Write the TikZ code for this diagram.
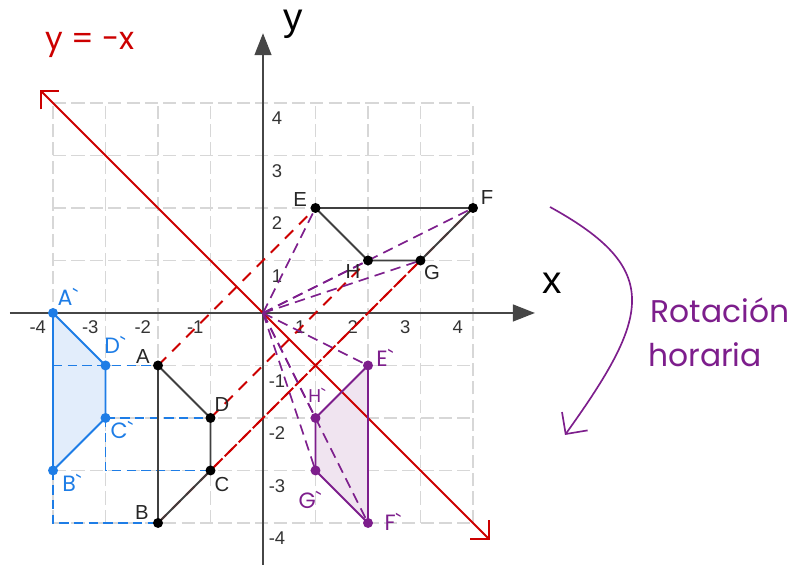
\documentclass[tikz,border=0pt]{standalone}
\usepackage{fontspec}
\setmainfont{Liberation Sans}
\newfontfamily\handfont{Poppins}
\usepackage{tikz}
\usetikzlibrary{arrows.meta}
\definecolor{redcolor}{RGB}{204,0,0}
\definecolor{bluecolor}{RGB}{30,125,230}
\definecolor{purplecolor}{RGB}{125,30,140}
\definecolor{lightbluecolor}{RGB}{226,237,251}
\definecolor{lightpurplecolor}{RGB}{240,228,240}
\definecolor{gridcolor}{RGB}{215,215,215}
\definecolor{axiscolor}{RGB}{70,70,70}

\begin{document}
\begin{tikzpicture}[
    gridline/.style={gridcolor, line width=0.9pt, dash pattern=on 0.25cm off 0.1cm},
    axisline/.style={axiscolor, line width=1.1pt, -{Triangle[length=0.42cm, width=0.32cm]}},
    redline/.style={redcolor, line width=1pt},
    reddash/.style={redcolor, line width=1pt, dash pattern=on 0.22cm off 0.16cm},
    purpledash/.style={purplecolor, line width=0.9pt, dash pattern=on 0.2cm off 0.12cm},
    bluedash/.style={bluecolor, line width=0.9pt, dash pattern=on 0.18cm off 0.1cm},
    dot/.style={circle, fill=#1, inner sep=0pt, minimum size=0.19cm},
    hand/.style={font=\handfont\fontsize{12}{14}\selectfont, text=#1},
    ptlabel/.style={font=\fontsize{11}{13}\selectfont, text=black!85},
    ticklabel/.style={font=\fontsize{10}{12}\selectfont, text=black!80},
]
    % Frame of the picture (1 unit = 1 grid square)
    \useasboundingbox (-5.010,-4.8) rectangle (10.305,5.962);

    % Points
    \coordinate (O) at (0,0);
    \coordinate (A) at (-2,-1);  \coordinate (B) at (-2,-4);
    \coordinate (C) at (-1,-3);  \coordinate (D) at (-1,-2);
    \coordinate (E) at (1,2);    \coordinate (F) at (4,2);
    \coordinate (G) at (3,1);    \coordinate (H) at (2,1);
    \coordinate (A') at (-4,0);  \coordinate (B') at (-4,-3);
    \coordinate (C') at (-3,-2); \coordinate (D') at (-3,-1);
    \coordinate (E') at (2,-1);  \coordinate (F') at (2,-4);
    \coordinate (G') at (1,-3);  \coordinate (H') at (1,-2);

    % Grid
    \draw[gridline] (-4,-4) grid (4,4);

    % Axes
    \draw[axisline] (-4.82,0) -- (5.18,0);
    \draw[axisline] (0,-4.8) -- (0,5.33);
    \node[font=\fontsize{21}{23}\selectfont] (xlab) at (5.505,0.571) {x};
    \node[font=\fontsize{21}{23}\selectfont] (ylab) at (0.571,5.50) {y};

    % Tick labels
    \foreach \k in {-4,-3,-2,-1,1,2,3,4} {
        \node[ticklabel] (tx\k) at ({\k-0.29},-0.267) {\k};
        \node[ticklabel] (ty\k) at (0.267,{\k-0.29}) {\k};
    }

    % Filled images
    \fill[lightbluecolor] (A') -- (D') -- (C') -- (B') -- cycle;
    \fill[lightpurplecolor] (E') -- (H') -- (G') -- (F') -- cycle;

    % Mirror line y = -x
    \coordinate (redtop) at (-4.25,4.25);
    \coordinate (redbot) at (4.32,-4.32);
    \draw[redline, {Straight Barb[length=0.25cm]}-{Straight Barb[length=0.25cm]}] (redtop) -- (redbot);
    \node[hand=redcolor, font=\handfont\fontsize{17}{19}\selectfont] (mirror) at (-3.295,5.105) {y = -x};

    % Reflection lines
    \draw[reddash] (A) -- (E);
    \draw[reddash] (D) -- (H);
    \draw[reddash] (C) -- (G);
    \draw[reddash] (B) -- (F);

    % Rotation rays
    \foreach \p in {E,F,G,H,E',F',G',H'}
        \draw[purpledash] (O) -- (\p);

    % Blue helper lines
    \draw[bluedash] (-4,-1) -- (A);
    \draw[bluedash] (C') -- (D);
    \draw[bluedash] (C') -- (-3,-3) -- (C);
    \draw[bluedash] (B') -- (-4,-4) -- (B);

    % Polygons
    \draw[black!75, line width=1pt] (A) -- (D) -- (C) -- (B) -- cycle;
    \draw[black!75, line width=1pt] (E) -- (F) -- (G) -- (H) -- cycle;
    \draw[bluecolor, line width=1pt] (A') -- (D') -- (C') -- (B') -- cycle;
    \draw[purplecolor, line width=1pt] (E') -- (H') -- (G') -- (F') -- cycle;

    % Dots
    \foreach \p in {A,B,C,D,E,F,G,H}
        \node[dot=black] (d\p) at (\p) {};
    \foreach \p in {A',B',C',D'}
        \node[dot=bluecolor] (d\p) at (\p) {};
    \foreach \p in {E',F',G',H'}
        \node[dot=purplecolor] (d\p) at (\p) {};

    % Point labels
    \node[ptlabel] (lA) at (-2.286,-0.838) {A};
    \node[ptlabel] (lB) at (-2.305,-3.81) {B};
    \node[ptlabel] (lC) at (-0.781,-3.276) {C};
    \node[ptlabel] (lD) at (-0.781,-1.752) {D};
    \node[ptlabel] (lE) at (0.705,2.152) {E};
    \node[ptlabel] (lF) at (4.267,2.19) {F};
    \node[ptlabel] (lG) at (3.219,0.762) {G};
    \node[ptlabel] (lH) at (1.714,0.781) {H};
    \node[hand=bluecolor] (lA') at (-3.714,0.305) {A\textasciigrave};
    \node[hand=bluecolor] (lB') at (-3.638,-3.238) {B\textasciigrave};
    \node[hand=bluecolor] (lC') at (-2.686,-2.229) {C\textasciigrave};
    \node[hand=bluecolor] (lD') at (-2.819,-0.610) {D\textasciigrave};
    \node[hand=purplecolor] (lE') at (2.324,-0.857) {E\textasciigrave};
    \node[hand=purplecolor] (lF') at (2.476,-3.981) {F\textasciigrave};
    \node[hand=purplecolor] (lG') at (0.895,-3.562) {G\textasciigrave};
    \node[hand=purplecolor, font=\handfont\fontsize{10}{12}\selectfont] (lH') at (1.029,-1.562) {H\textasciigrave};

    % Clockwise rotation arrow
    \coordinate (rotstart) at (5.467,2.019);
    \coordinate (rotend) at (5.752,-2.324);
    \draw[purplecolor, line width=0.9pt, -{Straight Barb[length=0.3cm]}] (rotstart) .. controls (7.631,0.829) and (7.368,-0.066) .. (rotend);
    \node[hand=purplecolor, font=\handfont\fontsize{17}{19}\selectfont] (rot1) at (8.705,0.057) {Rotación};
    \node[hand=purplecolor, font=\handfont\fontsize{17}{19}\selectfont] (rot2) at (8.419,-0.8) {horaria};

\end{tikzpicture}
\end{document}
